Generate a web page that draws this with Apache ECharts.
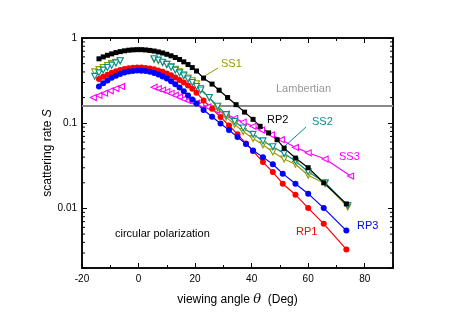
<!DOCTYPE html>
<html>
<head>
<meta charset="utf-8">
<script src="https://cdn.jsdelivr.net/npm/echarts@6/dist/echarts.min.js"></script>
<style>html,body{margin:0;padding:0;background:#fff}#c{width:457px;height:322px}</style>
</head>
<body>
<div id="c"></div>
<script>
// ---- data ----
const xTicks = [-20, 0, 20, 40, 60, 80];
const yTicks = [0.01, 0.1, 1];
const yTickLabels = ['0.01', '0.1', '1'];
const yMinor = [0.003,0.004,0.005,0.006,0.007,0.008,0.009,0.02,0.03,0.04,0.05,0.06,0.07,0.08,0.09,0.2,0.3,0.4,0.5,0.6,0.7,0.8,0.9];
const lambertian = 0.159;

const rp2X = [-14,-12.5,-11,-9.5,-8,-6.5,-5,-3.5,-2,-0.5,1,2.5,4,5.5,7,8.5,10,11.5,13,14.5,16,17.5,19,20.5,23,26,28.5,31.5,34.5,37.5,40.5,43,46,49,51.5,55.5,60,65.5,73.5];
const rp2Y = [0.57,0.60,0.627,0.651,0.674,0.692,0.707,0.719,0.726,0.73,0.73,0.724,0.715,0.703,0.686,0.667,0.644,0.618,0.59,0.56,0.525,0.488,0.45,0.41,0.338,0.288,0.244,0.200,0.165,0.135,0.111,0.092,0.077,0.064,0.051,0.039,0.030,0.020,0.0113];

const rp1X = [-14,-12.5,-11,-9.5,-8,-6.5,-5,-3.5,-2,-0.5,1,2.5,4,5.5,7,8.5,10,11.5,13,14.5,16,17.5,19,20.5,23,26,29,32,35,38,40.5,44,47.5,51,55.5,60,65.5,73.5];
const rp1Y = [0.33,0.351,0.371,0.39,0.406,0.421,0.432,0.441,0.447,0.45,0.45,0.446,0.439,0.429,0.416,0.401,0.384,0.365,0.344,0.322,0.300,0.277,0.254,0.228,0.185,0.148,0.118,0.094,0.074,0.058,0.047,0.035,0.0267,0.0195,0.0145,0.0101,0.0066,0.0033];

const rp3X = rp1X;
const rp3Y = [0.27,0.295,0.318,0.341,0.361,0.378,0.393,0.404,0.411,0.415,0.414,0.409,0.401,0.388,0.373,0.354,0.334,0.311,0.287,0.262,0.237,0.212,0.19,0.17,0.143,0.119,0.099,0.083,0.069,0.057,0.048,0.040,0.033,0.0256,0.0195,0.0149,0.0101,0.0055];

const ss1X = [-15.5,-14,-12.5,-11,-9.5,-8,-6.5,null,5.5,7,8.5,10,11.5,13,14.5,16,17.5,19,20.5,22,25,28,31,34,37,40.5,44,47.5,51.5,55.5,60,66,74];
const ss1Y = [0.40,0.425,0.45,0.475,0.50,0.52,0.54,null,0.56,0.54,0.515,0.49,0.46,0.43,0.40,0.37,0.34,0.315,0.29,0.255,0.20,0.15,0.118,0.097,0.08,0.066,0.056,0.046,0.038,0.033,0.0245,0.0195,0.0104];

const ss2X = ss1X;
const ss2Y = [0.355,0.39,0.42,0.45,0.48,0.51,0.54,null,0.57,0.55,0.52,0.49,0.455,0.42,0.39,0.36,0.33,0.30,0.27,0.245,0.20,0.158,0.126,0.105,0.088,0.074,0.062,0.053,0.044,0.036,0.027,0.020,0.0108];

const ss3X = [-16,-14,-12,-10,-8,-6,null,5.5,7,8.5,10,11.5,13,14.5,16,17.5,19,20.5,22,24.5,27.5,31,34,37,40.5,43.5,47,50.5,55.5,60,66,75];
const ss3Y = [0.20,0.212,0.225,0.24,0.255,0.27,null,0.265,0.255,0.245,0.235,0.224,0.213,0.203,0.193,0.184,0.178,0.172,0.166,0.155,0.142,0.128,0.114,0.103,0.092,0.083,0.073,0.064,0.052,0.045,0.038,0.024];

// ---- chart ----
const pairs = (xs, ys) => xs.map((x, i) => (x === null ? ['-', '-'] : [x, ys[i]]));
const FONT = 'Liberation Sans, Arial, sans-serif';
const chart = echarts.init(document.getElementById('c'), null, {renderer: 'canvas'});

const axisLineOn = {show: true, onZero: false, lineStyle: {color: '#000', width: 1.5}};
const baseX = {type: 'value', min: -20, max: 90, splitLine: {show: false}, axisLine: axisLineOn};
const baseY = {type: 'log', logBase: 10, min: 0.002, max: 1, splitLine: {show: false}, axisLine: axisLineOn};
const tick = len => ({show: true, inside: true, length: len, lineStyle: {color: '#000', width: 1}});

function lineSeries(name, xs, ys, color, symbol, size, open, rotate) {
  return {
    name, type: 'line', data: pairs(xs, ys), connectNulls: false,
    symbol, symbolSize: size, symbolRotate: rotate || 0, showSymbol: true,
    lineStyle: {color, width: 1.2},
    itemStyle: open ? {color: '#fff', borderColor: color, borderWidth: 1.1} : {color, borderWidth: 0},
    emphasis: {disabled: true}, animation: false, z: 3
  };
}

const option = {
  animation: false,
  backgroundColor: '#fff',
  grid: {left: 82, top: 38, right: 64, bottom: 54, containLabel: false, outerBoundsMode: 'none',
    show: true, borderColor: '#000', borderWidth: 1.5, backgroundColor: 'transparent'},
  xAxis: [
    Object.assign({}, baseX, {position: 'bottom', interval: 20, axisTick: tick(5),
      axisLabel: {show: true, color: '#000', fontSize: 10, fontFamily: FONT, margin: 6,
        formatter: v => (xTicks.indexOf(v) >= 0 ? String(v) : '')},
      name: 'viewing angle {i|θ}  (Deg)', nameLocation: 'middle', nameGap: 25, nameMoveOverlap: false,
      nameTextStyle: {color: '#000', fontSize: 12, fontFamily: FONT,
        rich: {i: {fontStyle: 'italic', fontSize: 13, fontFamily: 'DejaVu Serif, serif', color: '#000'}}}}),
    Object.assign({}, baseX, {position: 'bottom', interval: 10, axisLine: {show: false}, axisTick: tick(3), axisLabel: {show: false}}),
    Object.assign({}, baseX, {position: 'top', interval: 20, axisTick: tick(5), axisLabel: {show: false}}),
    Object.assign({}, baseX, {position: 'top', interval: 10, axisLine: {show: false}, axisTick: tick(3), axisLabel: {show: false}})
  ],
  yAxis: [
    Object.assign({}, baseY, {position: 'left', axisTick: tick(5),
      axisLabel: {show: true, color: '#000', fontSize: 10, fontFamily: FONT, margin: 5,
        formatter: v => {
          for (let i = 0; i < yTicks.length; i++) {
            if (Math.abs(Math.log10(v) - Math.log10(yTicks[i])) < 1e-6) return yTickLabels[i];
          }
          return '';
        }},
      name: 'scattering rate {i|S}', nameLocation: 'middle', nameGap: 28, nameRotate: 90, nameMoveOverlap: false,
      nameTextStyle: {color: '#000', fontSize: 12, fontFamily: FONT,
        rich: {i: {fontStyle: 'italic', fontSize: 12, fontFamily: FONT, color: '#000'}}}}),
    Object.assign({}, baseY, {position: 'right', axisTick: tick(5), axisLabel: {show: false}})
  ],
  series: [
    {
      type: 'line', xAxisIndex: 2, yAxisIndex: 1, data: [[-20, lambertian], [90, lambertian]], symbol: 'none',
      lineStyle: {color: '#8a8a8a', width: 2}, z: 2, silent: true
    },
    {
      type: 'line', xAxisIndex: 1, yAxisIndex: 1, data: [[-20, lambertian], [90, lambertian]], symbol: 'none',
      lineStyle: {opacity: 0}, z: 1, silent: true
    },
    {
      type: 'custom', xAxisIndex: 3, yAxisIndex: 0, data: yMinor.map(v => [-20, v]), silent: true, z: 5,
      renderItem: (params, api) => {
        const v = api.value(1);
        const pl = api.coord([-20, v]);
        const pr = api.coord([90, v]);
        return {type: 'group', children: [
          {type: 'line', shape: {x1: pl[0], y1: pl[1], x2: pl[0] + 3, y2: pl[1]}, style: {stroke: '#000', lineWidth: 1}},
          {type: 'line', shape: {x1: pr[0] - 3, y1: pr[1], x2: pr[0], y2: pr[1]}, style: {stroke: '#000', lineWidth: 1}}
        ]};
      }
    },
    lineSeries('SS3', ss3X, ss3Y, '#ff00ff', 'triangle', 6, true, 90),
    lineSeries('SS1', ss1X, ss1Y, '#999900', 'triangle', 6, true, 180),
    lineSeries('SS2', ss2X, ss2Y, '#009090', 'triangle', 6, true, 180),
    lineSeries('RP1', rp1X, rp1Y, '#ff0000', 'circle', 6, false),
    lineSeries('RP3', rp3X, rp3Y, '#0000ff', 'circle', 6, false),
    lineSeries('RP2', rp2X, rp2Y, '#000000', 'rect', 5, false)
  ],
  graphic: [
    {type: 'text', x: 221, y: 58, style: {text: 'SS1', fill: '#999900', font: '11px ' + FONT}},
    {type: 'line', shape: {x1: 218, y1: 68, x2: 203, y2: 77}, style: {stroke: '#999900', lineWidth: 1}},
    {type: 'text', x: 276, y: 83, style: {text: 'Lambertian', fill: '#999', font: '11px ' + FONT}},
    {type: 'text', x: 267, y: 114, style: {text: 'RP2', fill: '#000', font: '11px ' + FONT}},
    {type: 'text', x: 312, y: 116, style: {text: 'SS2', fill: '#009090', font: '11px ' + FONT}},
    {type: 'line', shape: {x1: 306, y1: 127, x2: 285, y2: 146}, style: {stroke: '#009090', lineWidth: 1}},
    {type: 'text', x: 339, y: 151, style: {text: 'SS3', fill: '#ff00ff', font: '11px ' + FONT}},
    {type: 'text', x: 357, y: 220, style: {text: 'RP3', fill: '#0000ff', font: '11px ' + FONT}},
    {type: 'text', x: 296, y: 226, style: {text: 'RP1', fill: '#ff0000', font: '11px ' + FONT}},
    {type: 'text', x: 115, y: 228, style: {text: 'circular polarization', fill: '#000', font: '11px ' + FONT}}
  ]
};
chart.setOption(option);
</script>
</body>
</html>
